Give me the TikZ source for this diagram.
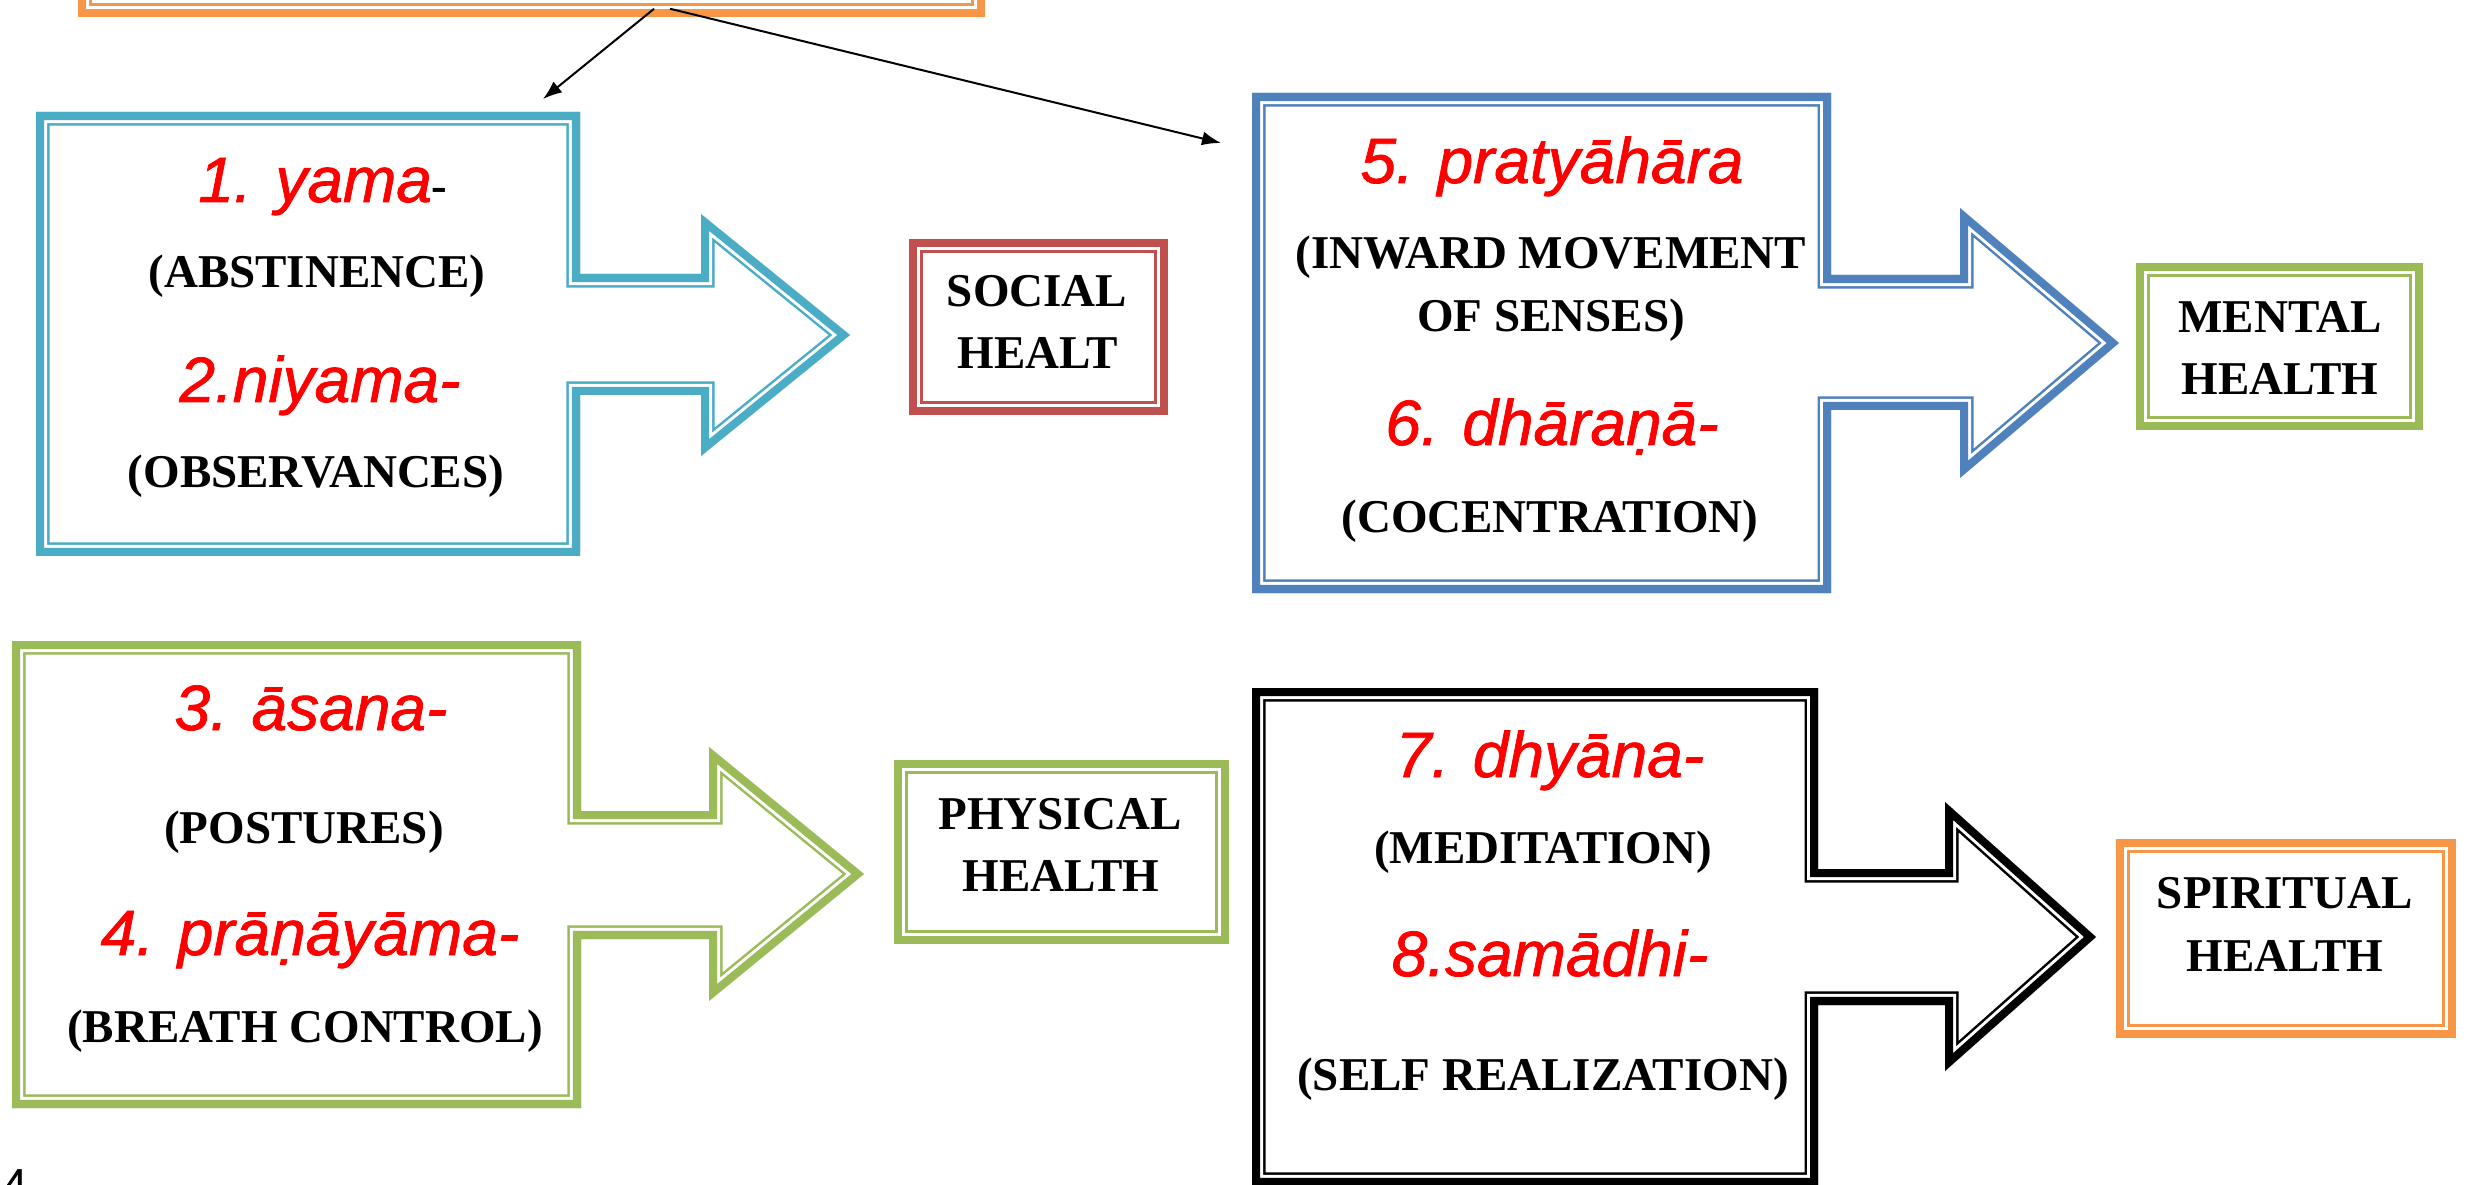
\documentclass[tikz,border=0pt]{standalone}
\usepackage{fontspec}
\setmainfont{Liberation Serif}
\newfontfamily\sansfam{Liberation Sans}
\newfontfamily\sktfam[FakeBold=1.2]{Liberation Sans}
\usetikzlibrary{arrows.meta}

\definecolor{cyanframe}{HTML}{4BACC6}
\definecolor{blueframe}{HTML}{4F81BD}
\definecolor{greenframe}{HTML}{9BBB59}
\definecolor{redframe}{HTML}{C0504D}
\definecolor{orangeframe}{HTML}{F79646}
\definecolor{sktred}{HTML}{FF0000}

\newcommand\engfont{\rmfamily\upshape\bfseries\fontsize{13.37}{16}\selectfont}
\newcommand\sktfont{\sktfam\itshape\fontsize{18.2}{22}\selectfont}

% thick-thin compound outline, drawn inside the given closed path
\newcommand\cframe[2]{%
  \begin{scope}
    \clip #2;
    \draw[#1, line width=0.27cm] #2;
    \draw[white, line width=0.22cm] #2;
    \draw[#1, line width=0.16cm] #2;
  \end{scope}}

\tikzset{
  eng/.style={font=\engfont, text=black, anchor=base, inner sep=0pt},
  skt/.style={font=\sktfont, text=sktred, anchor=base, inner sep=0pt},
  hbox/.style={draw=none, inner sep=0pt},
  conn/.style={draw=black, line width=0.02cm, -{Latex[length=0.19cm, width=0.14cm]}},
}

\begin{document}
\begin{tikzpicture}[x=0.01cm, y=-0.01cm]
\useasboundingbox (0,0) rectangle (2468,1185);
\fill[white] (0,0) rectangle (2468,1185);

% top box (mostly above the page)
\node[hbox, minimum width=9.05cm, minimum height=2.32cm] (top) at (531.5,-100) {};
\cframe{orangeframe}{(top.north west) rectangle (top.south east)}

% block arrows: limbs 1-2, 3-4, 5-6, 7-8
\cframe{cyanframe}{(36,112) -- (580,112) -- (580,274) -- (701,274) -- (701,214) -- (850,335) -- (701,456) -- (701,395) -- (580,395) -- (580,556) -- (36,556) -- cycle}
\cframe{greenframe}{(12,641) -- (581,641) -- (581,811) -- (709,811) -- (709,747) -- (864,874) -- (709,1001) -- (709,939) -- (581,939) -- (581,1108) -- (12,1108) -- cycle}
\cframe{blueframe}{(1252,93) -- (1831,93) -- (1831,275) -- (1960,275) -- (1960,208) -- (2119,343) -- (1960,478) -- (1960,410) -- (1831,410) -- (1831,593) -- (1252,593) -- cycle}
\cframe{black}{(1252,688) -- (1818,688) -- (1818,869) -- (1945,869) -- (1945,802) -- (2096,937) -- (1945,1071) -- (1945,1005) -- (1818,1005) -- (1818,1186) -- (1252,1186) -- cycle}

% health boxes
\node[hbox, minimum width=2.57cm, minimum height=1.74cm] (social) at (1038.5,327) {};
\node[hbox, minimum width=2.85cm, minimum height=1.65cm] (mental) at (2279.5,346.5) {};
\node[hbox, minimum width=3.33cm, minimum height=1.82cm] (physical) at (1061.5,852) {};
\node[hbox, minimum width=3.38cm, minimum height=1.97cm] (spiritual) at (2286,938.5) {};
\cframe{redframe}{(social.north west) rectangle (social.south east)}
\cframe{greenframe}{(mental.north west) rectangle (mental.south east)}
\cframe{greenframe}{(physical.north west) rectangle (physical.south east)}
\cframe{orangeframe}{(spiritual.north west) rectangle (spiritual.south east)}

% connectors from the top box
\coordinate (yamaend) at (543,99);
\coordinate (pratend) at (1221,143);
\draw[conn] ([xshift=1.225cm, yshift=0.08cm]top.south) -- (yamaend);
\draw[conn] ([xshift=1.385cm, yshift=0.08cm]top.south) -- (pratend);

% limb texts
\node[skt] (n1) at (323,202) {1. yama\textcolor{black}{\engfont -}};
\node[eng] (e1) at (317,288) {(ABSTINENCE)};
\node[skt] (n2) at (320,402) {2.niyama-};
\node[eng] (e2) at (316,488) {(OBSERVANCES)};

\node[skt] (n3) at (311,730) {3. āsana-};
\node[eng] (e3) at (304,843) {(POSTURES)};
\node[skt] (n4) at (310,955) {4. prāṇāyāma-};
\node[eng] (e4) at (305,1042) {(BREATH CONTROL)};

\node[skt] (n5) at (1552,183) {5. pratyāhāra};
\node[eng] (e5a) at (1551,269) {(INWARD MOVEMENT};
\node[eng] (e5b) at (1551,332) {OF SENSES)};
\node[skt] (n6) at (1552,445) {6. dhāraṇā-};
\node[eng] (e6) at (1550,532) {(COCENTRATION)};

\node[skt] (n7) at (1550,777) {7. dhyāna-};
\node[eng] (e7) at (1543,863) {(MEDITATION)};
\node[skt] (n8) at (1550,976) {8.samādhi-};
\node[eng] (e8) at (1543,1090) {(SELF REALIZATION)};

% health labels
\node[eng] (s1) at (1037,307) {SOCIAL};
\node[eng] (s2) at (1038,369) {HEALT};
\node[eng] (m1) at (2280,333) {MENTAL};
\node[eng] (m2) at (2280,395) {HEALTH};
\node[eng] (p1) at (1060,829) {PHYSICAL};
\node[eng] (p2) at (1061,891) {HEALTH};
\node[eng] (sp1) at (2285,908) {SPIRITUAL};
\node[eng] (sp2) at (2285,971) {HEALTH};

% page number
\node[font=\sktfam\fontsize{11}{13}\selectfont, anchor=base west, inner sep=0pt] (pg) at (4,1196) {4};
\end{tikzpicture}
\end{document}
